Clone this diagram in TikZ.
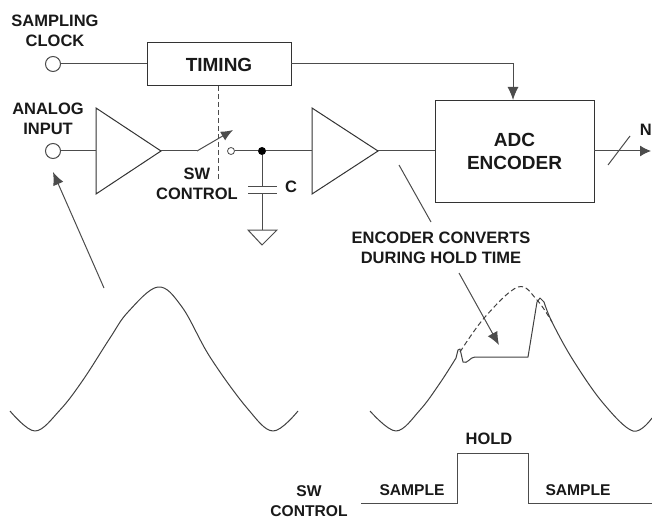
\documentclass[tikz,border=0pt]{standalone}
\usepackage{fontspec}
\setmainfont{Liberation Sans}
\usetikzlibrary{arrows.meta}
\tikzset{
	wire/.style={draw=black!70, line width=1pt},
	tip/.style={-{Latex[length=13pt,width=11pt]}},
	label/.style={font=\fontsize{16.5}{20}\selectfont\bfseries, align=center, text=black!90},
	smalllabel/.style={font=\fontsize{15.6}{20}\selectfont\bfseries, align=center, text=black!90},
	biglabel/.style={font=\fontsize{19}{23}\selectfont\bfseries, align=center, text=black!90},
	block/.style={draw=black!80, line width=1pt, fill=white},
	port/.style={circle, draw=black!70, line width=1pt, fill=white, inner sep=0pt, minimum size=15pt},
	wave/.style={draw=black!75, line width=1pt, line join=round},
}
\begin{document}
\begin{tikzpicture}[x=1pt,y=-1pt]
	\useasboundingbox (0,0) rectangle (652,521);
	% labels
	\node[label] (clocktext) at (55,31) {SAMPLING\\CLOCK};
	\node[label] (inputtext) at (48,119) {ANALOG\\INPUT};
	\node[label] (swtext) at (197,183.5) {SW\\CONTROL};
	\node[label] (ctext) at (291,187) {C};
	\node[label, anchor=east, inner sep=0pt] (ntext) at (652,130) {N};
	\node[label] (holdtimetext) at (441,248) {ENCODER CONVERTS\\DURING HOLD TIME};
	\node[label] (holdtext) at (489,439) {HOLD};
	\node[smalllabel] (sampleone) at (412,490) {SAMPLE};
	\node[smalllabel] (sampletwo) at (578,490) {SAMPLE};
	\node[smalllabel] (swtexttwo) at (309,501) {SW\\CONTROL};
	% blocks
	\node[port] (clock) at (53,64) {};
	\node[port] (input) at (53,151) {};
	\node[block, biglabel, minimum width=144pt, minimum height=43pt] (timing) at (219,64.5) {TIMING};
	\node[block, biglabel, minimum width=159pt, minimum height=102pt] (adc) at (514.5,151.5) {ADC\\ENCODER};
	\coordinate (ampone) at (96,151);
	\coordinate (amponeout) at (161,151);
	\coordinate (amptwo) at (312,151);
	\coordinate (amptwoout) at (378,151);
	\draw[block] (96,108) -- (amponeout) -- (96,194) -- cycle;
	\draw[block] (312,108) -- (amptwoout) -- (312,194) -- cycle;
	% timing
	\coordinate (timingin) at (147,64);
	\coordinate (timingout) at (291,64);
	\coordinate (adctop) at (513,64);
	\draw[wire] (clock) -- (timingin);
	\draw[wire, tip] (timingout) -- (adctop) -- (adc.north -| adctop);
	\coordinate (swtop) at (218,86);
	\coordinate (swend) at (218,180);
	\draw[wire, dashed, dash pattern=on 5pt off 3pt] (swtop) -- (swend);
	% signal path
	\coordinate (swleft) at (197,151);
	\coordinate (swtip) at (233,130);
	\node[circle, draw=black!70, line width=0.8pt, inner sep=0pt, minimum size=7pt] (swright) at (231,151) {};
	\node[circle, fill=black, inner sep=0pt, minimum size=8pt] (hub) at (262,151) {};
	\coordinate (adcin) at (435,151);
	\coordinate (adcout) at (594,151);
	\draw[wire] (input) -- (ampone);
	\draw[wire] (amponeout) -- (swleft);
	\draw[wire, -{Latex[length=12pt,width=10pt]}] (swleft) -- (swtip);
	\draw[wire] (swright) -- (hub);
	\draw[wire] (hub) -- (amptwo);
	\draw[wire] (amptwoout) -- (adcin);
	\coordinate (outend) at (651,151);
	\draw[wire, -{Latex[length=11pt,width=11pt]}] (adcout) -- (outend);
	\coordinate (slashlow) at (608,165);
	\coordinate (slashhigh) at (630,136);
	\draw[wire] (slashlow) -- (slashhigh);
	% cap and ground
	\coordinate (capup) at (262,187);
	\coordinate (capdown) at (262,194);
	\coordinate (gnd) at (262,230);
	\draw[wire] (hub) -- (capup);
	\draw[wire] (capdown) -- (gnd);
	\draw[wire] (248,187) -- (277,187);
	\draw[wire] (248,194) -- (277,194);
	\draw[wire] (248,230) -- (277,230) -- (262,245) -- cycle;
	% pointers
	\coordinate (leadstart) at (399,165);
	\coordinate (leadend) at (431,222);
	\draw[wire] (leadstart) -- (leadend);
	\coordinate (arrowonestart) at (104,288);
	\coordinate (arrowoneend) at (53,172);
	\draw[wire, tip] (arrowonestart) -- (arrowoneend);
	\coordinate (arrowtwostart) at (459,273);
	\coordinate (arrowtwoend) at (499,345);
	\draw[wire, tip] (arrowtwostart) -- (arrowtwoend);
	% waveforms
	\draw[wave] plot[smooth, tension=0.6] coordinates {(10,411) (35,431) (60,410) (83,380) (110,338) (128,312) (158,287) (182,307) (210,357) (247,408) (273,431) (298,411)};
	\draw[wave] plot[smooth, tension=0.6] coordinates {(370,411) (396,431) (420,410) (440,383) (456,358)};
	\draw[wave] (456,358) -- (458,350) -- (460,349) -- (463,362) to[out=-30,in=180] (475,357) -- (528,357) -- (537,302) -- (540,298) -- (544,302);
	\draw[wave] plot[smooth, tension=0.6] coordinates {(544,302) (552,322) (573,360) (603,403) (633,431) (652,418)};
	\draw[wave, dashed, dash pattern=on 5pt off 3pt] plot[smooth, tension=0.6] coordinates {(460,352) (485,317) (518,287) (537,300) (552,322)};
	% sw control
	\draw[wire] (361,503) -- (457,503) -- (457,453) -- (528,453) -- (528,503) -- (652,503);
\end{tikzpicture}
\end{document}
